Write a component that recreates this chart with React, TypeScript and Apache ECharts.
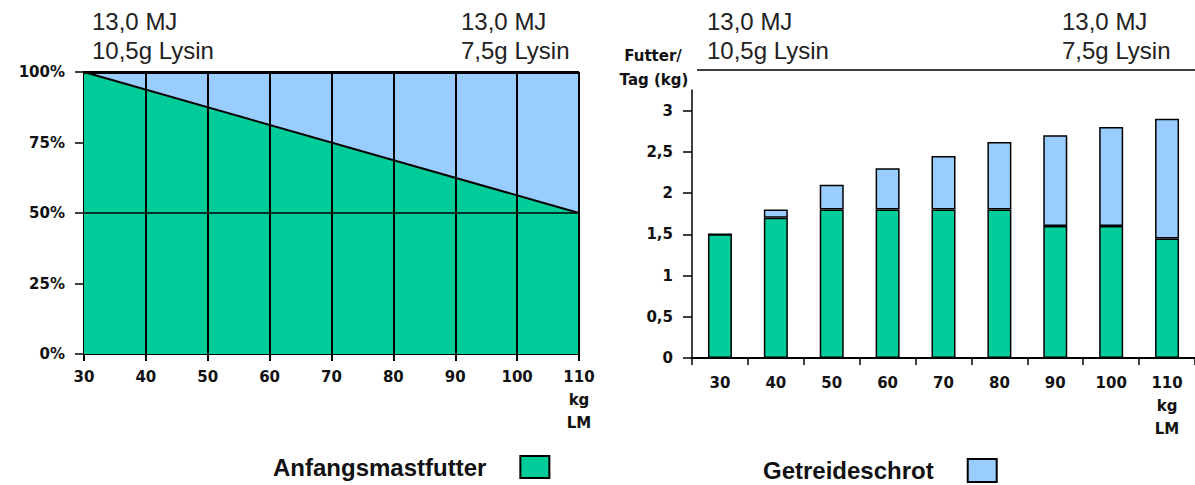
import React, { useEffect, useRef } from 'react';
import * as echarts from 'echarts';

// ---- data ----
const gewichtKg = [30, 40, 50, 60, 70, 80, 90, 100, 110];
const gewichtLabels = ['30', '40', '50', '60', '70', '80', '90', '100', '110'];
const achsenEinheit = ['kg', 'LM'];

// left chart: share of feed (%) over live weight
const anteilX = [30, 110];
const anfangsmastAnteil = [100, 50];
const getreideAnteil = [0, 50];
const anteilTicks = [0, 25, 50, 75, 100];
const anteilLinienY = [50, 100];

// right chart: feed per day (kg)
const anfangsmastKg = [1.5, 1.7, 1.8, 1.8, 1.8, 1.8, 1.6, 1.6, 1.45];
const getreideKg = [0, 0.1, 0.3, 0.5, 0.65, 0.82, 1.1, 1.2, 1.45];
const futterTicks = [0, 0.5, 1, 1.5, 2, 2.5, 3];

const kopfLinks = ['13,0 MJ', '10,5g Lysin'];
const kopfRechts = ['13,0 MJ', '7,5g Lysin'];

const GREEN = '#00CC99';
const BLUE = '#99CCFF';
const SMALL_FONT = '"DejaVu Sans", Verdana, sans-serif';
const BIG_FONT = '"Liberation Sans", Arial, sans-serif';

const smallLabel = {
  fontFamily: SMALL_FONT,
  fontWeight: 'bold' as const,
  fontSize: 15,
  color: '#111',
};

function weightLabel(v: string | number) {
  const s = String(v);
  return s === gewichtLabels[gewichtLabels.length - 1] ? [s, ...achsenEinheit].join('\n') : s;
}

export default function App() {
  const ref = useRef<HTMLDivElement>(null);

  useEffect(() => {
    if (!ref.current) return;
    const chart = echarts.init(ref.current, null, { renderer: 'svg' });

    const headerText = (lines: string[], x: number) =>
      lines.map((t, i) => ({
        type: 'text',
        x,
        y: 21.5 + i * 29,
        style: {
          text: t,
          fill: '#222',
          fontFamily: BIG_FONT,
          fontSize: 24,
          align: 'left',
          verticalAlign: 'middle',
        },
      }));

    // cumulative share (green + blue) for the blue area drawn behind the green one
    const gesamtAnteil = anteilX.map((_, i) => anfangsmastAnteil[i] + getreideAnteil[i]);

    const legendText = {
      fontFamily: BIG_FONT,
      fontWeight: 'bold',
      fontSize: 24,
      color: '#111',
      padding: [0, 29, 0, 0],
    };

    const option: any = {
      animation: false,
      backgroundColor: '#fff',
      grid: [
        { left: 84, right: 616, top: 72, bottom: 131 },
        { left: 692, right: 0, top: 90, bottom: 127 },
      ],
      xAxis: [
        {
          gridIndex: 0,
          type: 'value',
          min: gewichtKg[0],
          max: gewichtKg[gewichtKg.length - 1],
          interval: 10,
          axisLine: { show: true, lineStyle: { color: '#000', width: 2 } },
          axisTick: { show: true, length: 7, lineStyle: { color: '#000', width: 2 } },
          splitLine: { show: false },
          axisLabel: {
            ...smallLabel,
            margin: 11,
            lineHeight: 23,
            formatter: (v: number) => weightLabel(v),
          },
        },
        {
          gridIndex: 1,
          type: 'category',
          data: gewichtLabels,
          boundaryGap: true,
          axisLine: { show: true, lineStyle: { color: '#000', width: 2 } },
          axisTick: { show: true, length: 7, lineStyle: { color: '#000', width: 1.5 } },
          axisLabel: {
            ...smallLabel,
            margin: 13,
            lineHeight: 23,
            interval: 0,
            formatter: (v: string) => weightLabel(v),
          },
        },
      ],
      yAxis: [
        {
          gridIndex: 0,
          type: 'value',
          min: 0,
          max: 100,
          interval: 25,
          axisLine: { show: true, lineStyle: { color: '#000', width: 2 } },
          axisTick: { show: true, length: 9, lineStyle: { color: '#000', width: 1.5 }, customValues: anteilTicks },
          splitLine: { show: false },
          axisLabel: { ...smallLabel, margin: 19, formatter: '{value}%', customValues: anteilTicks },
        },
        {
          gridIndex: 1,
          type: 'value',
          min: 0,
          max: 3.25,
          axisLine: { show: true, lineStyle: { color: '#000', width: 1.5 } },
          axisTick: { show: true, length: 9, lineStyle: { color: '#000', width: 1.5 }, customValues: futterTicks },
          splitLine: { show: false },
          axisLabel: {
            ...smallLabel,
            margin: 19,
            customValues: futterTicks,
            formatter: (v: number) => String(v).replace('.', ','),
          },
        },
      ],
      legend: [
        {
          data: ['Anfangsmastfutter'],
          left: 268,
          top: 450,
          align: 'right',
          icon: 'rect',
          itemWidth: 29,
          itemHeight: 22,
          selectedMode: false,
          itemStyle: { color: GREEN, borderColor: '#000', borderWidth: 2 },
          textStyle: legendText,
        },
        {
          data: ['Getreideschrot'],
          left: 758,
          top: 453,
          align: 'right',
          icon: 'rect',
          itemWidth: 29,
          itemHeight: 23,
          selectedMode: false,
          itemStyle: { color: BLUE, borderColor: '#000', borderWidth: 2 },
          textStyle: legendText,
        },
      ],
      series: [
        {
          name: 'Getreideschrot',
          type: 'line',
          xAxisIndex: 0,
          yAxisIndex: 0,
          color: BLUE,
          data: anteilX.map((x, i) => [x, gesamtAnteil[i]]),
          showSymbol: false,
          symbol: 'none',
          lineStyle: { width: 0, color: BLUE },
          areaStyle: { color: BLUE, opacity: 1 },
          z: 1,
        },
        {
          name: 'Anfangsmastfutter',
          type: 'line',
          xAxisIndex: 0,
          yAxisIndex: 0,
          color: GREEN,
          data: anteilX.map((x, i) => [x, anfangsmastAnteil[i]]),
          showSymbol: false,
          symbol: 'none',
          lineStyle: { color: '#000', width: 2 },
          areaStyle: { color: GREEN, opacity: 1 },
          z: 2,
          markLine: {
            silent: true,
            symbol: 'none',
            label: { show: false },
            animation: false,
            data: [
              ...gewichtKg.slice(1).map((x) => ({ xAxis: x, lineStyle: { color: '#000', width: 2, type: 'solid' } })),
              ...anteilLinienY.map((y) => ({
                yAxis: y,
                lineStyle: { color: '#000', width: y === 100 ? 3 : 1.5, type: 'solid' },
              })),
            ],
          },
        },
        {
          name: 'Anfangsmastfutter',
          type: 'bar',
          xAxisIndex: 1,
          yAxisIndex: 1,
          stack: 'kg',
          barWidth: 24,
          data: anfangsmastKg,
          itemStyle: { color: GREEN, borderColor: '#000', borderWidth: 1.5 },
        },
        {
          name: 'Getreideschrot',
          type: 'bar',
          xAxisIndex: 1,
          yAxisIndex: 1,
          stack: 'kg',
          barWidth: 24,
          data: getreideKg,
          itemStyle: { color: BLUE, borderColor: '#000', borderWidth: 1.5 },
        },
      ],
      graphic: [
        ...headerText(kopfLinks, 92),
        ...headerText(kopfRechts, 461),
        ...headerText(kopfLinks, 707),
        ...headerText(kopfRechts, 1062),
        {
          type: 'line',
          shape: { x1: 697, y1: 70, x2: 1195, y2: 70 },
          style: { stroke: '#000', lineWidth: 1.5 },
        },
        {
          type: 'text',
          x: 653,
          y: 56,
          style: {
            text: 'Futter/',
            fill: '#111',
            fontFamily: SMALL_FONT,
            fontWeight: 'bold',
            fontSize: 15,
            align: 'center',
            verticalAlign: 'middle',
          },
        },
        {
          type: 'text',
          x: 654,
          y: 80,
          style: {
            text: 'Tag (kg)',
            fill: '#111',
            fontFamily: SMALL_FONT,
            fontWeight: 'bold',
            fontSize: 15,
            align: 'center',
            verticalAlign: 'middle',
          },
        },
      ],
    };

    chart.setOption(option);
    return () => chart.dispose();
  }, []);

  return (
    <div
      ref={ref}
      style={{ position: 'fixed', left: 0, top: 0, width: 1195, height: 485, background: '#fff' }}
    />
  );
}
